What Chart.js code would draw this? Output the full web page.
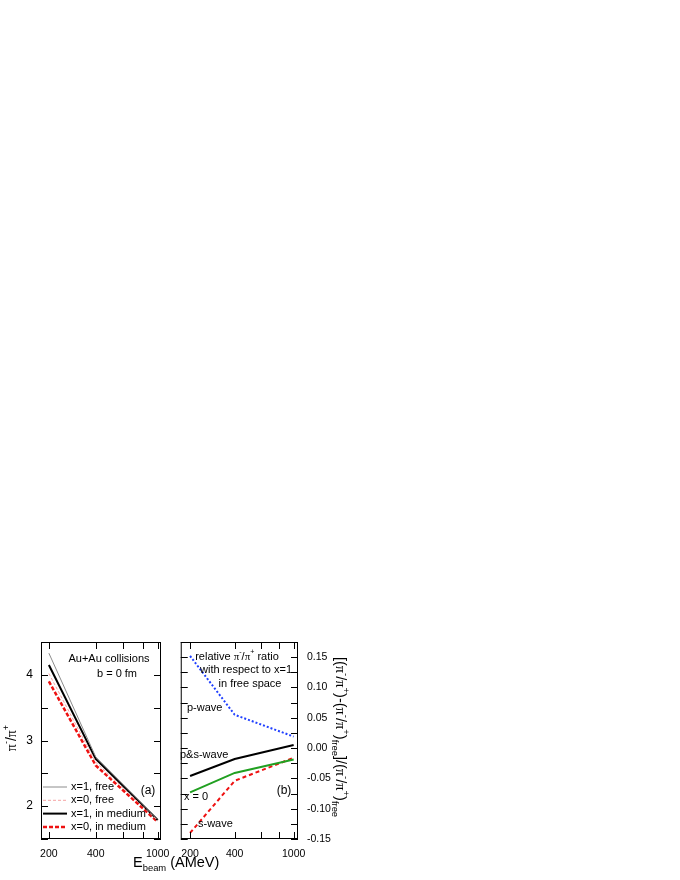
<!DOCTYPE html>
<html>
<head>
<meta charset="utf-8">
<script src="https://cdn.jsdelivr.net/npm/chart.js@4.4.0/dist/chart.umd.min.js"></script>
<style>
  body { margin: 0; background: #fff; width: 680px; height: 880px; position: relative; overflow: hidden; }
  canvas { position: absolute; }
  #panelA { left: 0; top: 600px; }
  #panelB { left: 172px; top: 600px; }
</style>
</head>
<body>
<canvas id="panelA" width="240" height="280"></canvas>
<canvas id="panelB" width="188" height="280"></canvas>
<script>
/* ===============================
   DATOS
=============================== */
const energias = [200, 400, 1000];
const etiquetasX = [200, 400, 1000];
const marcasX = [200, 400, 600, 800, 1000];

// panel (a): pi-/pi+
const x1Libre = [4.33, 2.75, 1.80];
const x0Libre = [4.02, 2.67, 1.78];
const x1Medio = [4.15, 2.72, 1.79];
const x0Medio = [3.90, 2.62, 1.76];
const etiquetasYA = [2, 3, 4];
const marcasYA = [1.5, 2, 2.5, 3, 3.5, 4, 4.5];

// panel (b): razon relativa
const ondaP = [0.152, 0.055, 0.019];
const ondaPS = [-0.046, -0.018, 0.005];
const x0Rel = [-0.073, -0.041, -0.019];
const ondaS = [-0.140, -0.054, -0.016];
const etiquetasYB = [-0.15, -0.10, -0.05, 0.00, 0.05, 0.10, 0.15];
const marcasYB = [-0.15, -0.125, -0.1, -0.075, -0.05, -0.025, 0, 0.025, 0.05, 0.075, 0.1, 0.125, 0.15, 0.175];

const FUENTE = "'Liberation Sans', Arial, sans-serif";
const SERIF = "'Liberation Serif', 'DejaVu Serif', serif";

/* ===============================
   UTILIDADES DE DIBUJO
=============================== */
// texto con super/subindices: partes = [[texto, "sup"|"sub"|"", serif?]]
function textoRico(ctx, x, y, partes, tam, alinear) {
  const medir = p => {
    const t = p[1] ? tam * 0.65 : tam;
    ctx.font = t + "px " + (p[2] ? SERIF : FUENTE);
    return ctx.measureText(p[0]).width;
  };
  const total = partes.reduce((s, p) => s + medir(p), 0);
  let cx = alinear === "center" ? x - total / 2 : x;
  ctx.textBaseline = "middle";
  ctx.textAlign = "left";
  partes.forEach(p => {
    const w = medir(p);
    let dy = 0;
    if (p[1] === "sup") dy = -tam * 0.42;
    if (p[1] === "sub") dy = tam * 0.38;
    ctx.fillText(p[0], cx, y + dy);
    cx += w;
  });
}

const marcoYMarcas = {
  id: "marcoYMarcas",
  afterDraw(chart, args, o) {
    const { ctx, chartArea: a, scales } = chart;
    ctx.save();
    ctx.strokeStyle = "#000";
    ctx.lineWidth = 1;
    ctx.strokeRect(a.left + 0.5, a.top + 0.5, a.width - 1, a.height - 1);
    ctx.beginPath();
    o.x.forEach(v => {
      const px = Math.round(scales.x.getPixelForValue(v)) + 0.5;
      ctx.moveTo(px, a.bottom); ctx.lineTo(px, a.bottom - 7);
      ctx.moveTo(px, a.top); ctx.lineTo(px, a.top + 7);
    });
    o.y.forEach(v => {
      const py = Math.round(scales.y.getPixelForValue(v)) + 0.5;
      ctx.moveTo(a.left, py); ctx.lineTo(a.left + 7, py);
      ctx.moveTo(a.right, py); ctx.lineTo(a.right - 7, py);
    });
    ctx.stroke();
    ctx.fillStyle = "#000";
    (o.textos || []).forEach(t => {
      ctx.save();
      ctx.translate(t.x, t.y);
      if (t.rot) ctx.rotate(t.rot);
      textoRico(ctx, 0, 0, t.partes, t.tam || 11, t.alinear || "left");
      ctx.restore();
    });
    if (o.leyenda) {
      o.leyenda.forEach((i, k) => {
        const d = chart.data.datasets[i];
        const y = 187 + k * 13.3;
        ctx.strokeStyle = d.borderColor;
        ctx.lineWidth = d.borderWidth;
        ctx.setLineDash(d.borderDash || []);
        ctx.beginPath();
        ctx.moveTo(43, y); ctx.lineTo(67, y);
        ctx.stroke();
        ctx.setLineDash([]);
        ctx.fillStyle = "#000";
        textoRico(ctx, 71, y, [[d.label, ""]], 11, "left");
      });
    }
    ctx.restore();
  }
};

function ejeX(min, max) {
  return {
    type: "logarithmic", min, max,
    afterBuildTicks: s => { s.ticks = etiquetasX.map(v => ({ value: v })); },
    afterFit: s => { s.height = 41; },
    grid: { display: false, drawTicks: false },
    border: { display: false },
    ticks: { color: "#000", padding: 9, font: { family: FUENTE, size: 10.5 }, callback: v => String(v), autoSkip: false, maxRotation: 0 }
  };
}

/* ===============================
   PANEL (a)
=============================== */
new Chart(document.getElementById("panelA"), {
  type: "line",
  data: {
    labels: energias,
    datasets: [
      { label: "x=1, free", data: x1Libre, borderColor: "#8c8c8c", borderWidth: 1 },
      { label: "x=0, free", data: x0Libre, borderColor: "#f5a3a3", borderWidth: 1, borderDash: [3, 2] },
      { label: "x=1, in medium", data: x1Medio, borderColor: "#000", borderWidth: 2 },
      { label: "x=0, in medium", data: x0Medio, borderColor: "#ee1111", borderWidth: 2.5, borderDash: [4, 2] }
    ].map(d => ({ ...d, data: d.data.map((y, i) => ({ x: energias[i], y })), pointRadius: 0, tension: 0, fill: false }))
  },
  options: {
    responsive: false, animation: false,
    layout: { padding: { top: 42, right: 79, left: 0, bottom: 0 } },
    plugins: {
      legend: { display: false }, tooltip: { enabled: false },
      marcoYMarcas: {
        x: marcasX, y: marcasYA, leyenda: [0, 1, 2, 3],
        textos: [
          { x: 109, y: 59, partes: [["Au+Au collisions", ""]], alinear: "center" },
          { x: 117, y: 74, partes: [["b = 0 fm", ""]], alinear: "center" },
          { x: 148, y: 191, partes: [["(a)", ""]], alinear: "center", tam: 12 },
          { x: 12, y: 138, rot: -Math.PI / 2, tam: 14, alinear: "center",
            partes: [["π", "", 1], ["-", "sup"], ["/", ""], ["π", "", 1], ["+", "sup"]] },
          { x: 133, y: 263, tam: 14.5,
            partes: [["E", ""], ["beam", "sub"], [" (AMeV)", ""]] }
        ]
      }
    },
    scales: {
      x: ejeX(178, 1050),
      y: {
        min: 1.5, max: 4.5,
        afterBuildTicks: s => { s.ticks = etiquetasYA.map(v => ({ value: v })); },
        afterFit: s => { s.width = 41; },
        grid: { display: false, drawTicks: false },
        border: { display: false },
        ticks: { color: "#000", padding: 8, font: { family: FUENTE, size: 12 } }
      }
    }
  },
  plugins: [marcoYMarcas]
});

/* ===============================
   PANEL (b)
=============================== */
new Chart(document.getElementById("panelB"), {
  type: "line",
  data: {
    labels: energias,
    datasets: [
      { label: "p-wave", data: ondaP, borderColor: "#1f3fff", borderWidth: 2, borderDash: [2, 2] },
      { label: "p&s-wave", data: ondaPS, borderColor: "#000", borderWidth: 2 },
      { label: "x = 0", data: x0Rel, borderColor: "#21a021", borderWidth: 2 },
      { label: "s-wave", data: ondaS, borderColor: "#ee1111", borderWidth: 2, borderDash: [4, 3] }
    ].map(d => ({ ...d, data: d.data.map((y, i) => ({ x: energias[i], y })), pointRadius: 0, tension: 0, fill: false }))
  },
  options: {
    responsive: false, animation: false,
    layout: { padding: { top: 42, right: 0, left: 4, bottom: 0 } },
    plugins: {
      legend: { display: false }, tooltip: { enabled: false },
      marcoYMarcas: {
        x: marcasX, y: marcasYB,
        textos: [
          { x: 65, y: 57, alinear: "center", partes: [["relative ", ""], ["π", "", 1], ["-", "sup"], ["/", ""], ["π", "", 1], ["+", "sup"], [" ratio", ""]] },
          { x: 74, y: 70, alinear: "center", partes: [["with respect to x=1", ""]] },
          { x: 78, y: 84, alinear: "center", partes: [["in free space", ""]] },
          { x: 15, y: 108, partes: [["p-wave", ""]] },
          { x: 8, y: 155, partes: [["p&s-wave", ""]] },
          { x: 12, y: 197, partes: [["x = 0", ""]] },
          { x: 26, y: 224, partes: [["s-wave", ""]] },
          { x: 112, y: 191, alinear: "center", tam: 12, partes: [["(b)", ""]] },
          { x: 168, y: 137, rot: Math.PI / 2, tam: 14.5, alinear: "center",
            partes: [["[(", ""], ["π", "", 1], ["-", "sup"], ["/", ""], ["π", "", 1], ["+", "sup"], [")-(", ""],
                     ["π", "", 1], ["-", "sup"], ["/", ""], ["π", "", 1], ["+", "sup"], [")", ""], ["free", "sub"],
                     ["]/(", ""], ["π", "", 1], ["-", "sup"], ["/", ""], ["π", "", 1], ["+", "sup"], [")", ""], ["free", "sub"]] }
        ]
      }
    },
    scales: {
      x: ejeX(173, 1070),
      y: {
        position: "right",
        min: -0.15, max: 0.175,
        afterBuildTicks: s => { s.ticks = etiquetasYB.map(v => ({ value: v })); },
        afterFit: s => { s.width = 62; },
        grid: { display: false, drawTicks: false },
        border: { display: false },
        ticks: { color: "#000", padding: 9, font: { family: FUENTE, size: 10.5 }, callback: v => v.toFixed(2) }
      }
    }
  },
  plugins: [marcoYMarcas]
});
</script>
</body>
</html>
